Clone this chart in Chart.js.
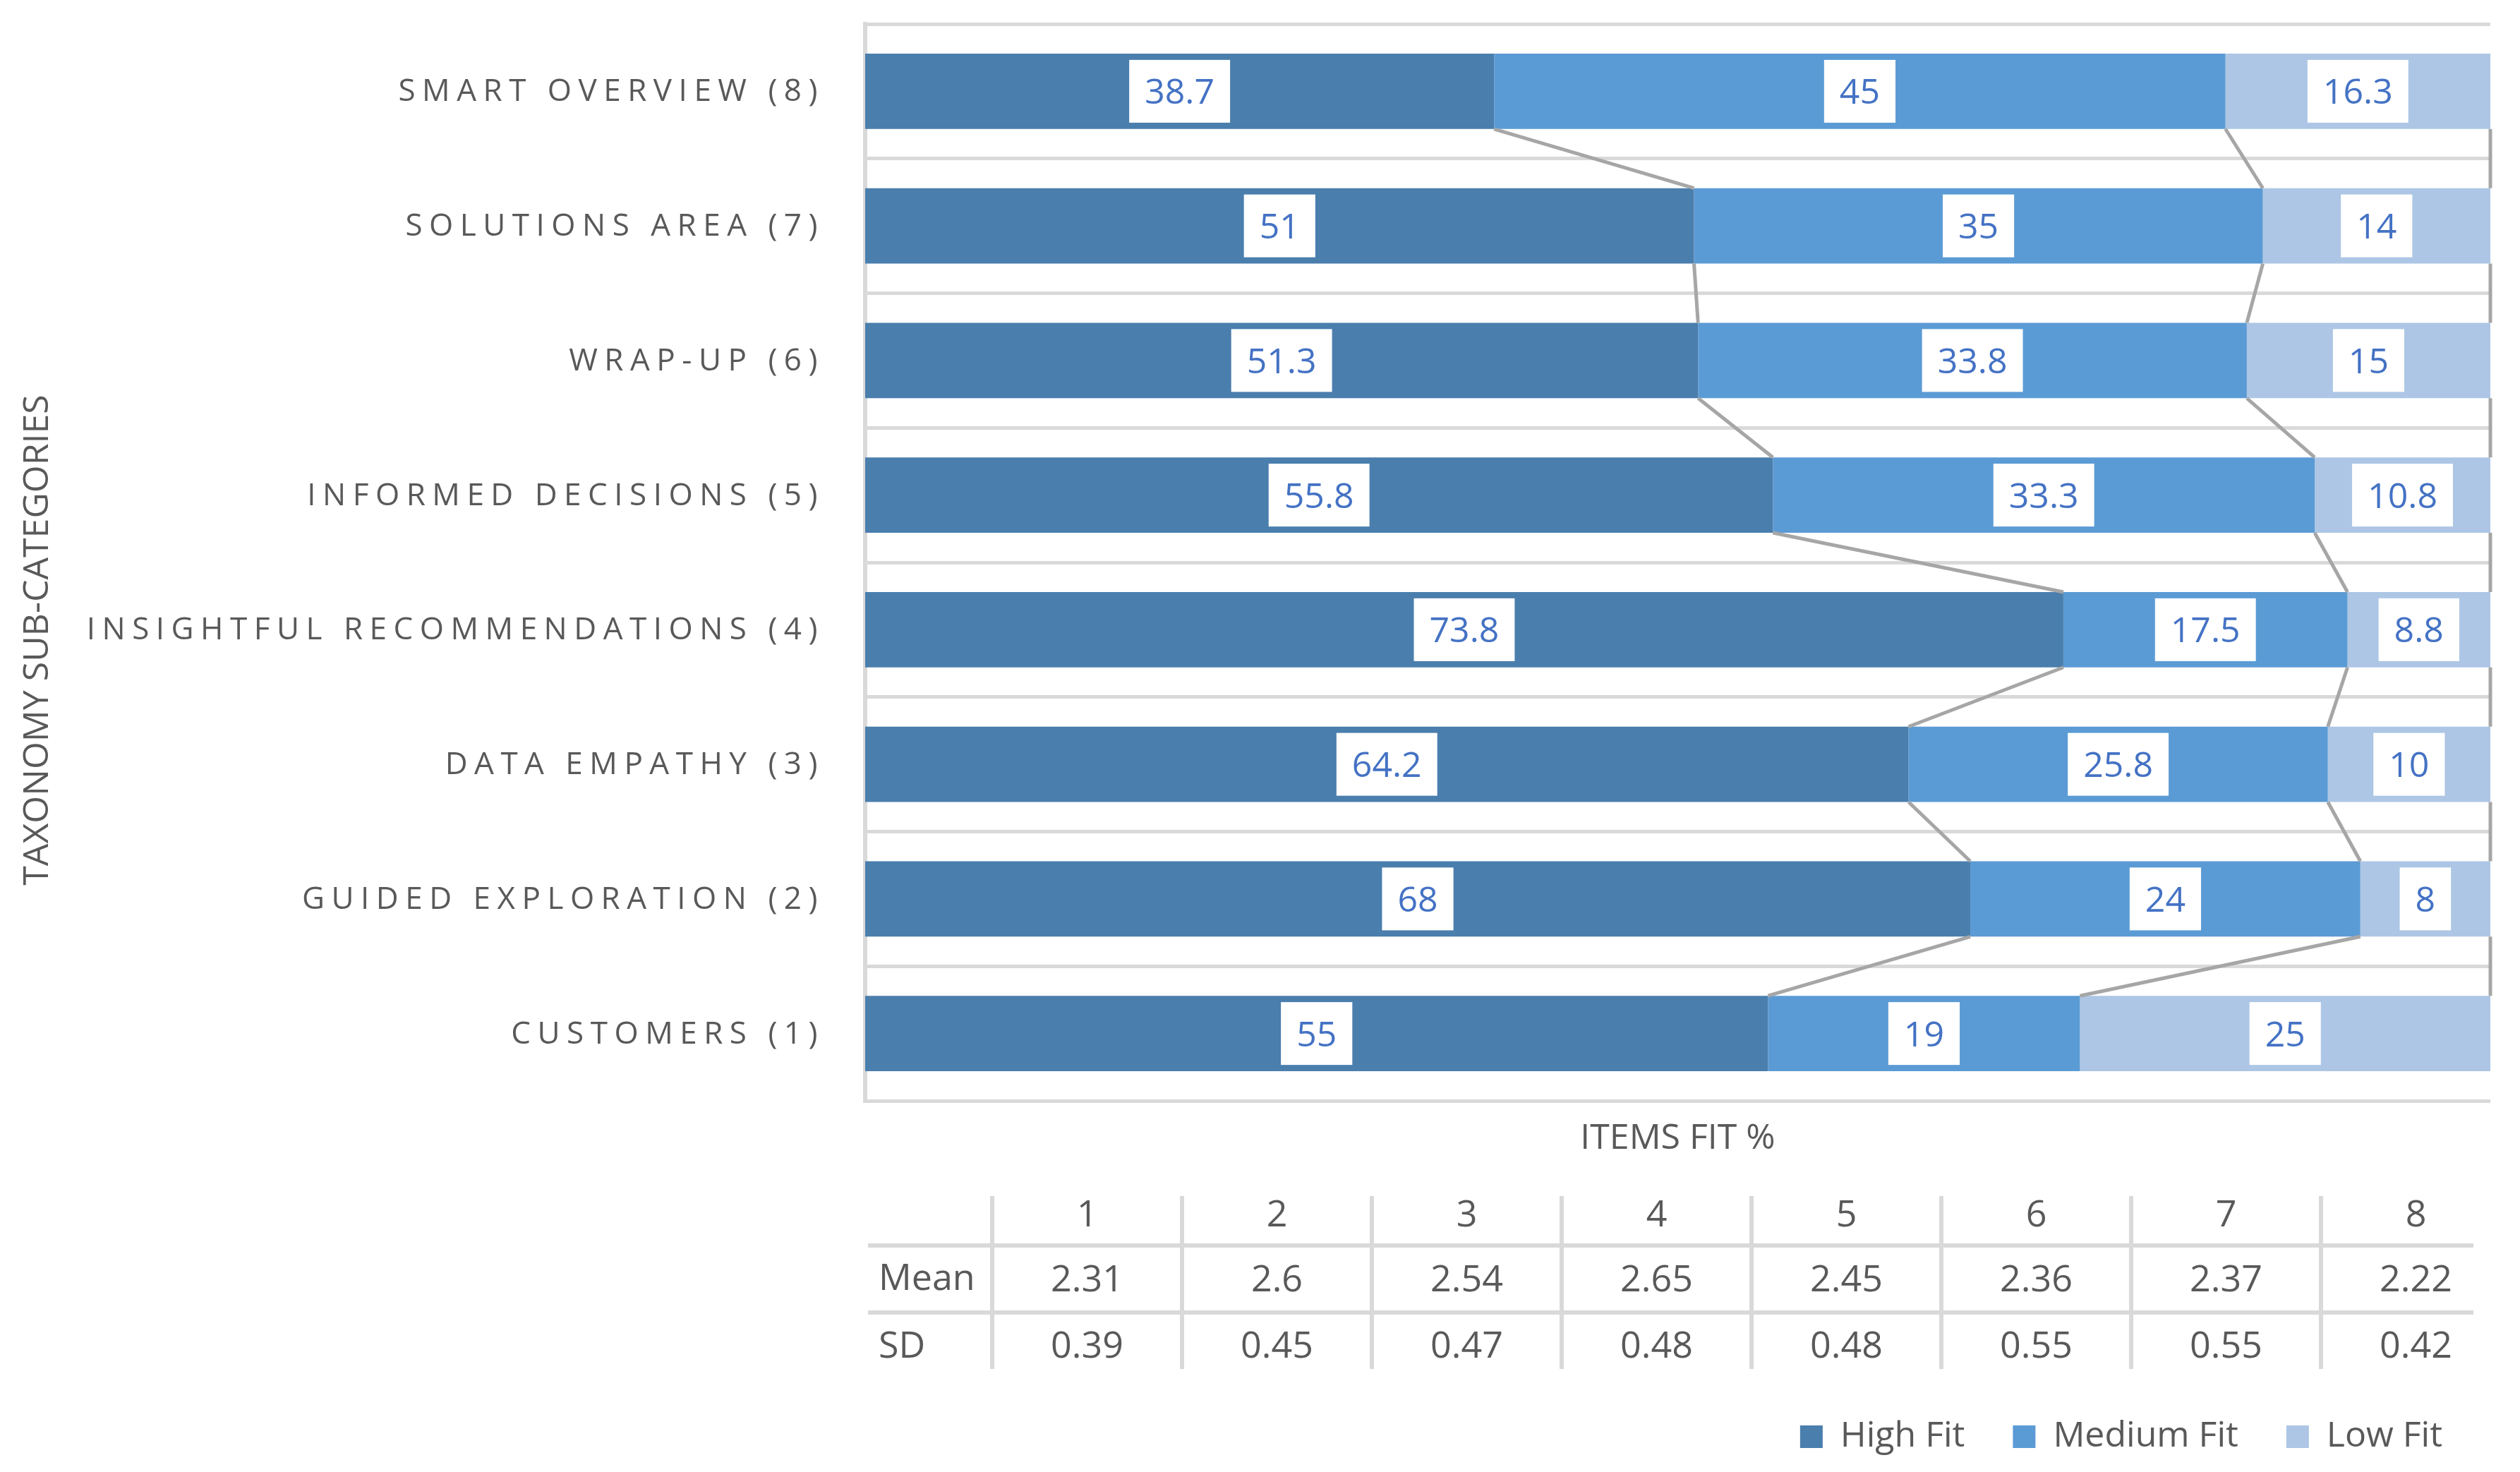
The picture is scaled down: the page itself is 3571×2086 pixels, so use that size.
<!DOCTYPE html>
<html>
<head>
<meta charset="utf-8">
<script src="https://cdn.jsdelivr.net/npm/chart.js@4.4.1/dist/chart.umd.min.js"></script>
<style>
  html, body { margin: 0; padding: 0; background: #fff; }
  #wrap { width: 3571px; height: 2086px; }
</style>
</head>
<body>
<div id="wrap"><canvas id="fitChart" width="3571" height="2086"></canvas></div>
<script>
// categories, top to bottom
const categories = [
  "SMART OVERVIEW (8)",
  "SOLUTIONS AREA (7)",
  "WRAP-UP (6)",
  "INFORMED DECISIONS (5)",
  "INSIGHTFUL RECOMMENDATIONS (4)",
  "DATA EMPATHY (3)",
  "GUIDED EXPLORATION (2)",
  "CUSTOMERS (1)"
];
const highFit   = [38.7, 51, 51.3, 55.8, 73.8, 64.2, 68, 55];
const mediumFit = [45, 35, 33.8, 33.3, 17.5, 25.8, 24, 19];
const lowFit    = [16.3, 14, 15, 10.8, 8.8, 10, 8, 25];

// table under the chart
const tableCols = ["1", "2", "3", "4", "5", "6", "7", "8"];
const meanVals  = [2.31, 2.6, 2.54, 2.65, 2.45, 2.36, 2.37, 2.22];
const sdVals    = [0.39, 0.45, 0.47, 0.48, 0.48, 0.55, 0.55, 0.42];

const GREY_TXT = "#595959";
const GRID = "#d9d9d9";
const FONT = "'Open Sans', sans-serif";

// 100% stacked: each row is scaled to its own total
const totals = highFit.map((v, i) => v + mediumFit[i] + lowFit[i]);
const pct = arr => arr.map((v, i) => v / totals[i] * 100);

// Excel style series lines between the bars
const seriesLines = {
  id: "seriesLines",
  afterDatasetsDraw(chart) {
    const ctx = chart.ctx;
    ctx.save();
    ctx.strokeStyle = "#a6a6a6";
    ctx.lineWidth = 5;
    chart.data.datasets.forEach((ds, d) => {
      const bars = chart.getDatasetMeta(d).data;
      for (let i = 0; i < bars.length - 1; i++) {
        const a = bars[i], b = bars[i + 1];
        ctx.beginPath();
        ctx.moveTo(a.x, a.y + a.height / 2);
        ctx.lineTo(b.x, b.y - b.height / 2);
        ctx.stroke();
      }
    });
    ctx.restore();
  }
};

// value labels in white boxes
const boxLabels = {
  id: "boxLabels",
  afterDatasetsDraw(chart) {
    const ctx = chart.ctx;
    ctx.save();
    ctx.font = "50px " + FONT;
    ctx.textAlign = "center";
    ctx.textBaseline = "alphabetic";
    chart.data.datasets.forEach((ds, d) => {
      chart.getDatasetMeta(d).data.forEach((bar, i) => {
        const txt = String(ds.raw[i]);
        const cx = (bar.x + bar.base) / 2;
        const w = ctx.measureText(txt).width + 44;
        ctx.fillStyle = "#ffffff";
        ctx.fillRect(cx - w / 2, bar.y - 44.5, w, 89);
        ctx.fillStyle = "#4472c4";
        ctx.fillText(txt, cx, bar.y + 18);
      });
    });
    ctx.restore();
  }
};

// spaced category labels + rotated axis title
const sideText = {
  id: "sideText",
  afterDraw(chart) {
    const ctx = chart.ctx;
    const y = chart.scales.y;
    ctx.save();
    ctx.fillStyle = GREY_TXT;
    ctx.textBaseline = "alphabetic";
    ctx.font = "44px " + FONT;
    ctx.letterSpacing = "9.5px";
    ctx.textAlign = "right";
    categories.forEach((c, i) => {
      ctx.fillText(c, chart.chartArea.left - 58, y.getPixelForValue(i) + 14);
    });
    ctx.letterSpacing = "0px";
    ctx.font = "50px " + FONT;
    ctx.translate(68, 907);
    ctx.rotate(-Math.PI / 2);
    ctx.textAlign = "center";
    ctx.fillText("TAXONOMY SUB-CATEGORIES", 0, 0);
    ctx.restore();
  }
};

// Mean / SD table
const statsTable = {
  id: "statsTable",
  afterDraw(chart) {
    const ctx = chart.ctx;
    const x0 = 1406, colW = 269;
    ctx.save();
    ctx.strokeStyle = GRID;
    ctx.lineWidth = 6;
    for (let k = 0; k < tableCols.length; k++) {
      ctx.beginPath();
      ctx.moveTo(x0 + k * colW, 1695);
      ctx.lineTo(x0 + k * colW, 1940);
      ctx.stroke();
    }
    [1765, 1860].forEach(yy => {
      ctx.beginPath();
      ctx.moveTo(1230, yy);
      ctx.lineTo(3505, yy);
      ctx.stroke();
    });
    ctx.fillStyle = GREY_TXT;
    ctx.textBaseline = "alphabetic";
    ctx.font = "52px " + FONT;
    ctx.textAlign = "left";
    ctx.fillText("Mean", 1245, 1828);
    ctx.fillText("SD", 1245, 1924);
    ctx.textAlign = "center";
    tableCols.forEach((c, k) => {
      const cx = x0 + colW * (k + 0.5);
      ctx.fillText(c, cx, 1738);
      ctx.fillText(String(meanVals[k]), cx, 1830);
      ctx.fillText(String(sdVals[k]), cx, 1924);
    });
    ctx.restore();
  }
};

Chart.defaults.font.family = FONT;
Chart.defaults.color = GREY_TXT;

const chart = new Chart(document.getElementById("fitChart"), {
  type: "bar",
  data: {
    labels: categories,
    datasets: [
      { label: "High Fit", data: pct(highFit), raw: highFit, backgroundColor: "#4a7ead" },
      { label: "Medium Fit", data: pct(mediumFit), raw: mediumFit, backgroundColor: "#5b9bd5" },
      { label: "Low Fit", data: pct(lowFit), raw: lowFit, backgroundColor: "#adc6e5" }
    ]
  },
  options: {
    indexAxis: "y",
    responsive: false,
    devicePixelRatio: 1,
    animation: false,
    layout: { padding: { top: 34, right: 42, bottom: 15, left: 0 } },
    datasets: { bar: { barPercentage: 0.56, categoryPercentage: 1, borderWidth: 0 } },
    scales: {
      x: {
        stacked: true,
        min: 0,
        max: 100,
        ticks: { display: false },
        grid: { display: false, drawTicks: false, tickLength: 0 },
        border: { display: false },
        title: {
          display: true,
          text: "ITEMS FIT %",
          color: GREY_TXT,
          font: { size: 50 },
          padding: { top: 24, bottom: 299 }
        }
      },
      y: {
        stacked: true,
        ticks: { display: false },
        grid: { color: GRID, lineWidth: 5, drawTicks: false, offset: true },
        border: { display: true, color: GRID, width: 6 },
        afterFit(scale) { scale.width = 1226; }
      }
    },
    plugins: {
      tooltip: { enabled: false },
      legend: {
        position: "bottom",
        align: "end",
        labels: { color: GREY_TXT, font: { size: 50 }, boxWidth: 32, boxHeight: 32, padding: 68 }
      }
    }
  },
  plugins: [seriesLines, boxLabels, sideText, statsTable]
});
</script>
</body>
</html>
